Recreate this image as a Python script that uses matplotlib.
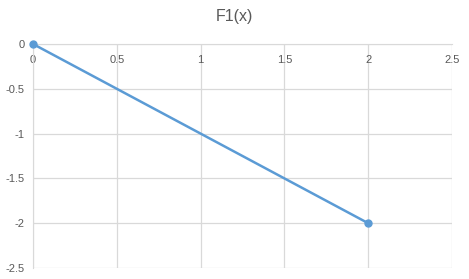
import matplotlib.pyplot as plt

line_blue = '#5B9BD5'
grid_gray = '#D9D9D9'
text_gray = '#595959'

x_values = [0, 2]
y_values = [0, -2]
x_ticks = [0, 0.5, 1, 1.5, 2, 2.5]
y_ticks = [0, -0.5, -1, -1.5, -2, -2.5]

plt.rcParams['font.family'] = ['Liberation Sans', 'DejaVu Sans']

fig = plt.figure(figsize=(4.69, 2.79), dpi=100)
ax = fig.add_axes([33/469, 1 - 268/279, (452 - 33)/469, (268 - 44)/279])

ax.plot(x_values, y_values, color=line_blue, linewidth=1.8,
        marker='o', markersize=5, zorder=3, clip_on=False)

ax.set_xlim(0, 2.5)
ax.set_ylim(-2.5, 0)
ax.set_xticks(x_ticks)
ax.set_yticks(y_ticks)
ax.set_xticklabels(['0', '0.5', '1', '1.5', '2', '2.5'])
ax.set_yticklabels(['0', '-0.5', '-1', '-1.5', '-2', '-2.5'])
ax.grid(True, color=grid_gray, linewidth=0.9)
ax.set_axisbelow(True)

# horizontal axis sits at y = 0, like the spreadsheet chart
ax.spines['bottom'].set_position(('data', 0))
ax.spines['bottom'].set_color(grid_gray)
ax.spines['left'].set_color(grid_gray)
ax.spines['top'].set_visible(False)
ax.spines['right'].set_visible(False)
ax.tick_params(length=0, labelsize=8, colors=text_gray)
ax.tick_params(axis='x', pad=8)
ax.tick_params(axis='y', pad=6)

fig.text(0.5, 1 - 16/279, 'F1(x)', ha='center', va='center',
         fontsize=11.5, color=text_gray)

fig.savefig('out.png', dpi=100)
